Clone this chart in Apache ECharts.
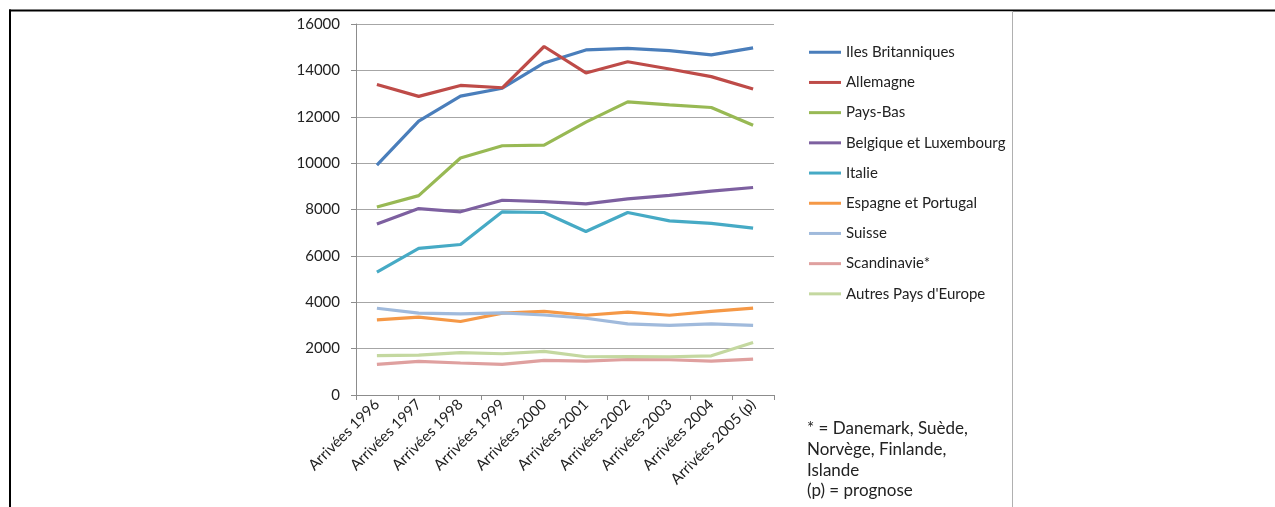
<!DOCTYPE html>
<html>
<head>
<meta charset="utf-8">
<script src="https://cdn.jsdelivr.net/npm/echarts@6/dist/echarts.min.js"></script>
<style>
  html, body { margin: 0; padding: 0; background: #fff; }
  #chart { width: 1275px; height: 507px; }
</style>
</head>
<body>
<div id="chart"></div>
<script>
// Arrivées par pays d'origine, 1996–2005 (p)
const categories = ['Arrivées 1996', 'Arrivées 1997', 'Arrivées 1998', 'Arrivées 1999', 'Arrivées 2000',
  'Arrivées 2001', 'Arrivées 2002', 'Arrivées 2003', 'Arrivées 2004', 'Arrivées 2005 (p)'];

const ilesBritanniques = [9910, 11810, 12890, 13230, 14320, 14880, 14950, 14850, 14670, 14970];
const allemagne        = [13390, 12880, 13350, 13250, 15030, 13890, 14370, 14060, 13730, 13200];
const paysBas          = [8110, 8600, 10220, 10750, 10780, 11770, 12640, 12510, 12400, 11630];
const belgiqueLux      = [7370, 8040, 7900, 8400, 8340, 8240, 8460, 8610, 8790, 8950];
const italie           = [5300, 6320, 6490, 7900, 7870, 7050, 7870, 7510, 7400, 7200];
const espagnePortugal  = [3240, 3360, 3170, 3530, 3610, 3440, 3570, 3440, 3610, 3750];
const suisse           = [3740, 3530, 3500, 3540, 3450, 3310, 3070, 3000, 3070, 3000];
const scandinavie      = [1320, 1450, 1380, 1320, 1490, 1460, 1530, 1520, 1460, 1550];
const autresEurope     = [1700, 1720, 1830, 1780, 1880, 1650, 1660, 1650, 1690, 2260];

const yTicks = { min: 0, max: 16000, interval: 2000 };

const seriesDefs = [
  ['Iles Britanniques', ilesBritanniques, '#4a7ebb'],
  ['Allemagne', allemagne, '#be4b48'],
  ['Pays-Bas', paysBas, '#98b954'],
  ['Belgique et Luxembourg', belgiqueLux, '#7d60a0'],
  ['Italie', italie, '#46aac5'],
  ['Espagne et Portugal', espagnePortugal, '#f59846'],
  ['Suisse', suisse, '#a0badc'],
  ['Scandinavie*', scandinavie, '#dfa09f'],
  ["Autres Pays d'Europe", autresEurope, '#c4d8a0']
];

const footnote = ['* = Danemark, Suède,', 'Norvège, Finlande,', 'Islande', '(p) = prognose'];

const FONT = 'Lato, "Open Sans", sans-serif';
const chart = echarts.init(document.getElementById('chart'), null, { renderer: 'canvas' });

chart.setOption({
  animation: false,
  backgroundColor: '#ffffff',
  textStyle: { fontFamily: FONT },
  grid: { left: 356, right: 501, top: 24, bottom: 112, containLabel: false },
  legend: {
    orient: 'vertical',
    left: 804,
    top: 39,
    icon: 'rect',
    itemWidth: 32,
    itemHeight: 3,
    itemGap: 13.7,
    textStyle: { fontFamily: FONT, fontSize: 15, color: '#222', lineHeight: 16.5 },
    data: seriesDefs.map(d => d[0])
  },
  xAxis: {
    type: 'category',
    data: categories,
    boundaryGap: true,
    axisLine: { lineStyle: { color: '#8c8c8c', width: 1 } },
    axisTick: { show: true, length: 5, lineStyle: { color: '#8c8c8c' } },
    axisLabel: { rotate: 45, fontSize: 15, color: '#222', margin: 7, fontFamily: FONT }
  },
  yAxis: {
    type: 'value',
    min: yTicks.min,
    max: yTicks.max,
    interval: yTicks.interval,
    axisLine: { show: true, lineStyle: { color: '#8c8c8c', width: 1 } },
    axisTick: { show: true, length: 5, lineStyle: { color: '#8c8c8c' } },
    axisLabel: { fontSize: 15, color: '#222', margin: 16, fontFamily: FONT, formatter: v => String(v) },
    splitLine: { lineStyle: { color: '#a6a6a6', width: 1 } }
  },
  series: seriesDefs.map(([name, values, color]) => ({
    name,
    type: 'line',
    data: values,
    showSymbol: false,
    symbol: 'none',
    lineStyle: { color, width: 3.2 },
    itemStyle: { color },
    z: 3
  })),
  graphic: [
    // page frame
    { type: 'rect', shape: { x: 9, y: 9.5, width: 1266, height: 2 }, style: { fill: '#000' }, silent: true },
    { type: 'rect', shape: { x: 9, y: 9.5, width: 2, height: 498 }, style: { fill: '#000' }, silent: true },
    { type: 'rect', shape: { x: 290, y: 11.5, width: 722, height: 1 }, style: { fill: '#fff' }, silent: true },
    { type: 'rect', shape: { x: 1012, y: 11, width: 1, height: 496 }, style: { fill: '#b0b0b0' }, silent: true },
    {
      type: 'text',
      left: 807,
      top: 418.5,
      style: {
        text: footnote.join('\n'),
        font: '17px ' + FONT,
        fill: '#222',
        lineHeight: 20.7
      },
      silent: true
    }
  ]
});
</script>
</body>
</html>
